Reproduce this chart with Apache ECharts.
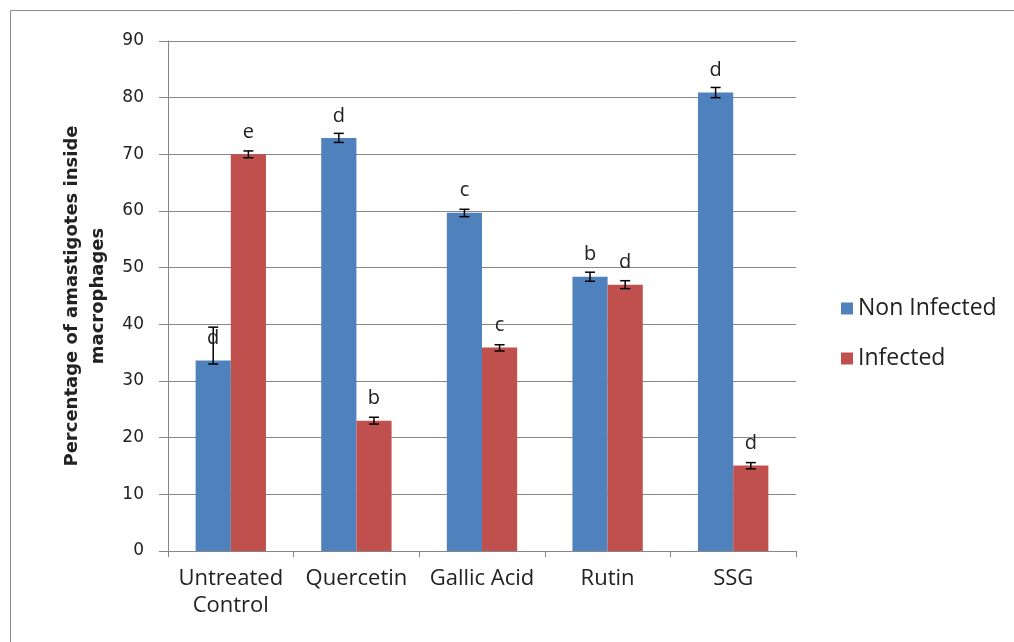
<!DOCTYPE html>
<html>
<head>
<meta charset="utf-8">
<script src="https://cdn.jsdelivr.net/npm/echarts@6/dist/echarts.min.js"></script>
<style>html,body{margin:0;padding:0;background:#fff;}#chart{width:1014px;height:642px;}</style>
</head>
<body>
<div id="chart"></div>
<script>
const categories = ['Untreated\nControl', 'Quercetin', 'Gallic Acid', 'Rutin', 'SSG'];
const nonInfected = [33.6, 72.9, 59.7, 48.4, 80.9];
const infected = [70.0, 23.0, 35.9, 47.0, 15.1];
const nonInfectedLow = [33.0, 72.1, 59.0, 47.6, 80.0];
const nonInfectedHigh = [39.5, 73.7, 60.3, 49.2, 81.8];
const infectedLow = [69.4, 22.4, 35.3, 46.3, 14.5];
const infectedHigh = [70.6, 23.6, 36.4, 47.7, 15.6];
const nonInfectedLetters = ['d', 'd', 'c', 'b', 'd'];
const infectedLetters = ['e', 'b', 'c', 'd', 'd'];
const yTicks = [0, 10, 20, 30, 40, 50, 60, 70, 80, 90];

const chart = echarts.init(document.getElementById('chart'));

function errorSeries(values, lows, highs, letters, side) {
  return {
    type: 'custom',
    z: 10,
    data: values.map((v, i) => [i, lows[i], highs[i], v, letters[i]]),
    renderItem: function (params, api) {
      const band = api.size([1, 0])[0];
      const off = side * band * 0.14;
      const c = api.coord([api.value(0), api.value(3)]);
      const x = c[0] + off;
      const yl = api.coord([api.value(0), api.value(1)])[1];
      const yh = api.coord([api.value(0), api.value(2)])[1];
      const yv = c[1];
      const cap = 5;
      const st = { stroke: '#000', lineWidth: 1.5 };
      return {
        type: 'group',
        children: [
          { type: 'line', shape: { x1: x, y1: yl, x2: x, y2: yh }, style: st },
          { type: 'line', shape: { x1: x - cap, y1: yl, x2: x + cap, y2: yl }, style: st },
          { type: 'line', shape: { x1: x - cap, y1: yh, x2: x + cap, y2: yh }, style: st },
          { type: 'text', x: x, y: yv - 22, style: { text: api.value(4), fill: '#222', font: '20px "Open Sans", sans-serif', align: 'center', verticalAlign: 'middle' } }
        ]
      };
    }
  };
}

chart.setOption({
  animation: false,
  backgroundColor: '#fff',
  graphic: [{ type: 'rect', shape: { x: 10.5, y: 10.5, width: 1010, height: 640 }, style: { fill: 'none', stroke: '#8c8c8c', lineWidth: 1 } }],
  grid: { left: 168, right: 218, top: 41, bottom: 91 },
  legend: {
    orient: 'vertical',
    left: 836, top: 292,
    itemWidth: 12, itemHeight: 12, itemGap: 27,
    icon: 'rect',
    textStyle: { fontSize: 23, color: '#222', fontFamily: '"Open Sans", sans-serif' },
    data: ['Non Infected', 'Infected']
  },
  xAxis: {
    type: 'category',
    data: categories,
    axisLine: { lineStyle: { color: '#868686', width: 1 } },
    axisTick: { show: true, length: 6, lineStyle: { color: '#868686' } },
    axisLabel: { fontSize: 22, color: '#222', fontFamily: '"Open Sans", sans-serif', margin: 14, lineHeight: 27, interval: 0 }
  },
  yAxis: {
    type: 'value',
    min: 0, max: 90, interval: 10,
    name: 'Percentage of amastigotes inside\nmacrophages',
    nameLocation: 'middle',
    nameGap: 45,
    nameRotate: 90,
    nameTextStyle: { fontSize: 18, fontWeight: 'bold', color: '#222', fontFamily: '"DejaVu Sans", sans-serif', lineHeight: 26 },
    axisLine: { show: true, lineStyle: { color: '#868686' } },
    axisTick: { show: true, length: 9, lineStyle: { color: '#868686' } },
    axisLabel: { fontSize: 17, color: '#222', fontFamily: '"DejaVu Sans", sans-serif', margin: 24, formatter: v => yTicks.includes(v) ? String(v) : '' },
    splitLine: { lineStyle: { color: '#878787', width: 1 } }
  },
  series: [
    { name: 'Non Infected', type: 'bar', data: nonInfected, barGap: '0%', barCategoryGap: '44%', itemStyle: { color: '#4F81BD' } },
    { name: 'Infected', type: 'bar', data: infected, barGap: '0%', barCategoryGap: '44%', itemStyle: { color: '#C0504D' } },
    errorSeries(nonInfected, nonInfectedLow, nonInfectedHigh, nonInfectedLetters, -1),
    errorSeries(infected, infectedLow, infectedHigh, infectedLetters, 1)
  ]
});
</script>
</body>
</html>
